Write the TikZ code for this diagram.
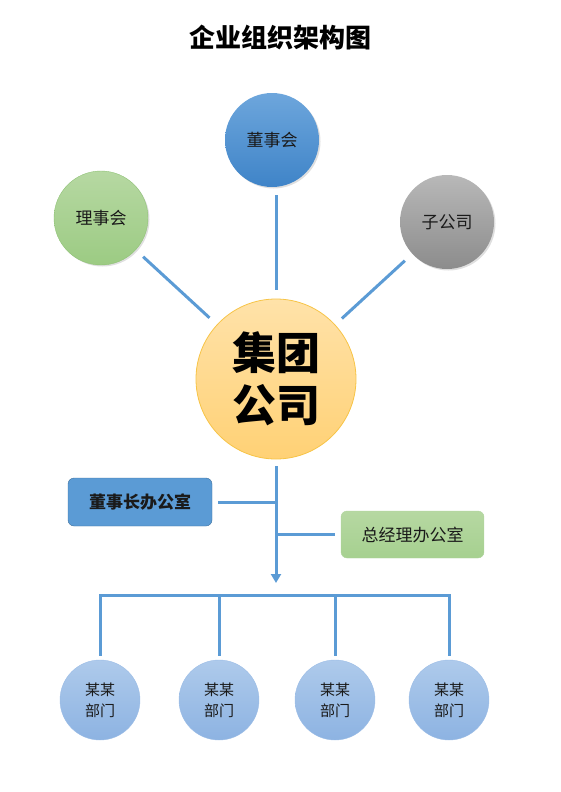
\documentclass[tikz,border=0pt]{standalone}
\usepackage{fontspec}
\setmainfont{Noto Sans CJK SC}
\usetikzlibrary{arrows.meta,positioning}
\usetikzlibrary{shadows}
\definecolor{org_line}{HTML}{5B9BD5}
\definecolor{org_text}{HTML}{1A1A1A}
\definecolor{board_top}{HTML}{6DA6DC}
\definecolor{board_bottom}{HTML}{3F84C8}
\definecolor{green_top}{HTML}{B6D8A2}
\definecolor{green_bottom}{HTML}{9CCB83}
\definecolor{green_edge}{HTML}{8FC276}
\definecolor{gray_top}{HTML}{B8B8B8}
\definecolor{gray_bottom}{HTML}{8C8C8C}
\definecolor{gold_top}{HTML}{FFE2A9}
\definecolor{gold_bottom}{HTML}{FFD175}
\definecolor{gold_edge}{HTML}{F7C447}
\definecolor{dept_top}{HTML}{AECAEB}
\definecolor{dept_bottom}{HTML}{8DB3E2}
\definecolor{dept_edge}{HTML}{9CBDE6}
\definecolor{chair_edge}{HTML}{41719C}

\begin{document}
\begin{tikzpicture}[
	    x=1pt, y=-1pt,
	    onlytext/.style={align=center, text=org_text},
	    bubble/.style={circle, inner sep=0pt, font=\fontsize{17}{20}\selectfont, text=org_text},
	    bigbubble/.style={bubble, minimum size=94pt, drop shadow={shadow xshift=1.5pt, shadow yshift=-1.5pt, opacity=0.25}},
	    bluebubble/.style={bigbubble, top color=board_top, bottom color=board_bottom},
	    greenbubble/.style={bigbubble, top color=green_top, bottom color=green_bottom, draw=green_edge},
	    graybubble/.style={bigbubble, top color=gray_top, bottom color=gray_bottom},
	    deptbubble/.style={bubble, minimum size=80pt, align=center, font=\fontsize{15}{21}\selectfont, top color=dept_top, bottom color=dept_bottom, draw=dept_edge},
	    box/.style={rectangle, rounded corners=6pt, minimum width=144pt, minimum height=48pt, font=\fontsize{17}{20}\selectfont, text=org_text},
	    bluebox/.style={box, fill=org_line, draw=chair_edge, font=\fontsize{17}{20}\selectfont\bfseries},
	    greenbox/.style={box, top color=green_top, bottom color=green_bottom!90!white, draw=green_edge!70!white},
	    normalline/.style={draw=org_line, line width=3pt},
	]
	\useasboundingbox (0,0) rectangle (560,792);

	\node[onlytext, font=\fontsize{26}{30}\selectfont\bfseries, text=black] (title) at (280,38) {企业组织架构图};

	% ------------ group

	\node[circle, minimum size=160pt, inner sep=0pt, top color=gold_top, bottom color=gold_bottom, draw=gold_edge, line width=0.8pt, align=center, font=\fontsize{44}{52}\selectfont\bfseries] (group) at (276,379) {集团\\公司};

	\node[bluebubble] (board) at (272,140) {董事会};
	\node[greenbubble] (council) at (101,218) {理事会};
	\node[graybubble] (subsidiary) at (447,222) {子公司};

	\draw [normalline, shorten <=8pt, shorten >=9pt] (board.south -| group.north) -- (group.north);
	\draw [normalline, shorten <=10pt, shorten >=10pt] (council) -- (group);
	\draw [normalline, shorten <=10pt, shorten >=9pt] (subsidiary) -- (group);

	% ------------ offices

	\coordinate (trunkend) at (276,583);
	\draw [normalline, -{Triangle[length=9pt, width=10pt]}, shorten <=7pt] (group.south) -- (trunkend);

	\node[bluebox] (chairoffice) at (140,502) {董事长办公室};
	\node[greenbox, minimum width=143pt, minimum height=47pt] (gmoffice) at (412.5,534.5) {总经理办公室};

	\draw [normalline, shorten <=6pt] (chairoffice.east) -- (chairoffice.east -| trunkend);
	\draw [normalline, shorten <=6pt] (gmoffice.west) -- (gmoffice.west -| trunkend);

	% ------------ departments

	\foreach \i/\x in {1/100, 2/219, 3/335, 4/449}
	    \node[deptbubble] (dept\i) at (\x,700) {某某\\部门};

	\coordinate (bus) at (276,595);
	\draw [normalline, line cap=rect] (dept1.north |- bus) -- (dept4.north |- bus);
	\foreach \i in {1,...,4}
	    \draw [normalline] (dept\i.north |- bus) -- ([yshift=4pt]dept\i.north);

\end{tikzpicture}
\end{document}
